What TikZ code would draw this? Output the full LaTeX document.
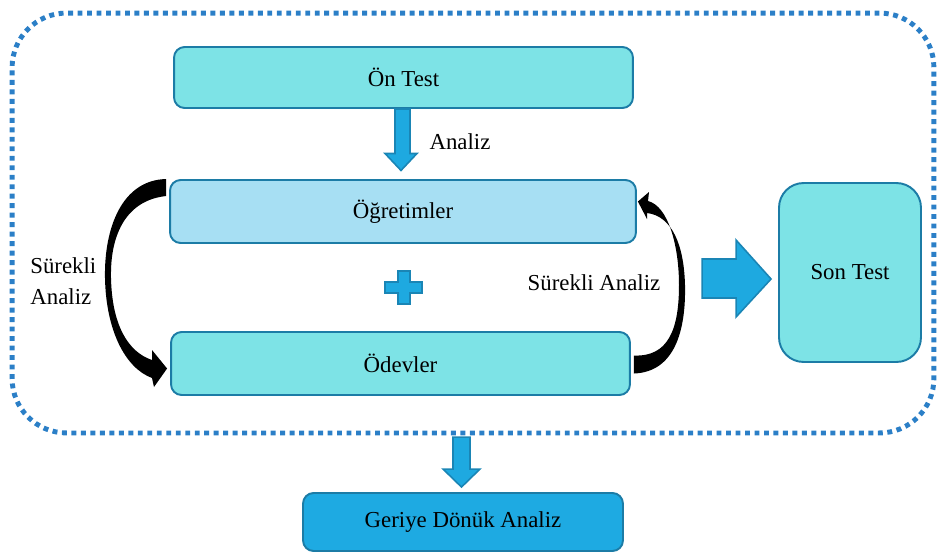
\documentclass[tikz,border=0pt]{standalone}
\usepackage{fontspec}
\setmainfont{Liberation Serif}
\usetikzlibrary{calc}

\definecolor{boxCyan}{HTML}{7DE3E6}
\definecolor{boxLight}{HTML}{A7DFF3}
\definecolor{boxDark}{HTML}{1EAAE2}
\definecolor{boxEdge}{HTML}{1C7CA6}
\definecolor{arrowFill}{HTML}{1EA9E0}
\definecolor{arrowEdge}{HTML}{1A85B5}
\definecolor{dotBlue}{HTML}{2B7FC7}

\tikzset{
	box/.style={rectangle, draw=boxEdge, line width=1.1pt, rounded corners=6pt, text centered, font=\fontsize{13}{15}\selectfont},
	txt/.style={font=\fontsize{13}{18}\selectfont},
	blockArrow/.style={fill=arrowFill, draw=arrowEdge, line width=0.9pt, line join=miter},
	loopArrow/.style={fill=black}
}

\begin{document}
\begin{tikzpicture}[x=0.02cm, y=-0.02cm]
		
		\useasboundingbox (0,0) rectangle (938,552);
		
		%Dotted frame
		\node (frame) at (473,223) [rectangle, draw=dotBlue, line width=2.8pt, dash pattern=on 2.8pt off 2.6pt, 
		rounded corners=31pt, minimum width=18.44cm, minimum height=8.4cm]{};
		
		%Boxes
		\node (onTest) at (403.5,77.5) [box, fill=boxCyan, minimum width=9.18cm, minimum height=1.22cm]{Ön Test};
		\node (ogretim) at (403,211.5) [box, fill=boxLight, minimum width=9.32cm, minimum height=1.26cm]{Öğretimler};
		\node (odev) at (400.5,363.5) [box, fill=boxCyan, minimum width=9.18cm, minimum height=1.26cm]{Ödevler};
		\node (sonTest) at (850,272.5) [box, fill=boxCyan, rounded corners=14pt, minimum width=2.84cm, 
		minimum height=3.58cm]{Son Test};
		\node (gda) at (463,522) [box, fill=boxDark, minimum width=6.4cm, minimum height=1.16cm]{Geriye Dönük Analiz};
		
		%Block arrows
		\draw[blockArrow, shift={(onTest.south)}] (-8.5,0) -- (6.5,0) -- (6.5,44.5) -- (13.5,44.5) -- (-2.5,61.5) 
		-- (-18.5,44.5) -- (-8.5,44.5) -- cycle;
		\draw[blockArrow, shift={(sonTest.west)}] (-76,-13.5) -- (-42,-13.5) -- (-42,-32.5) -- (-7,6.5) 
		-- (-42,44.5) -- (-42,25.5) -- (-76,25.5) -- cycle;
		\draw[blockArrow, shift={(gda.north)}] (-10,-55) -- (7,-55) -- (7,-23) -- (17,-23) -- (-1.5,-5) 
		-- (-20,-23) -- (-10,-23) -- cycle;
		
		%Plus
		\draw[blockArrow, shift={($(ogretim.south)!0.5!(odev.north)$)}] (-4,-16.5) -- (8,-16.5) -- (8,-5.5) 
		-- (20.5,-5.5) -- (20.5,5.5) -- (8,5.5) -- (8,16.5) -- (-4,16.5) -- (-4,5.5) -- (-16.5,5.5) 
		-- (-16.5,-5.5) -- (-4,-5.5) -- cycle;
		
		%Loop arrows
		\fill[loopArrow] ($(ogretim.north west)+(-3,0)$) .. controls (122,180) and (104,228) .. (105,278) 
		.. controls (106,330) and (125,368) .. (152,378) -- (154,387) -- ($(odev.west)+(-3,5)$) -- (152,350) 
		-- (152,360) .. controls (128,352) and (112,325) .. (111,278) .. controls (110,232) and (128,200) 
		.. ($(ogretim.north west)+(-3,17)$) -- cycle;
		\fill[loopArrow] ($(odev.east)+(3,10)$) .. controls (675,372) and (686,330) .. (685,285) 
		.. controls (684,245) and (672,216) .. (647,213) -- (647,219) -- ($(ogretim.east)+(1,-10)$) -- (649,192) 
		-- (648,201) .. controls (668,206) and (679,245) .. (679,285) .. controls (679,330) and (668,357) 
		.. ($(odev.east)+(3,-8)$) -- cycle;
		
		%Labels
		\node (analizTxt) at (460,142) [txt]{Analiz};
		\node (leftTxt) at (30,281) [txt, anchor=west, align=left, inner sep=0pt]{Sürekli\\Analiz};
		\node (rightTxt) at (594,283) [txt]{Sürekli Analiz};
		
\end{tikzpicture}
\end{document}
